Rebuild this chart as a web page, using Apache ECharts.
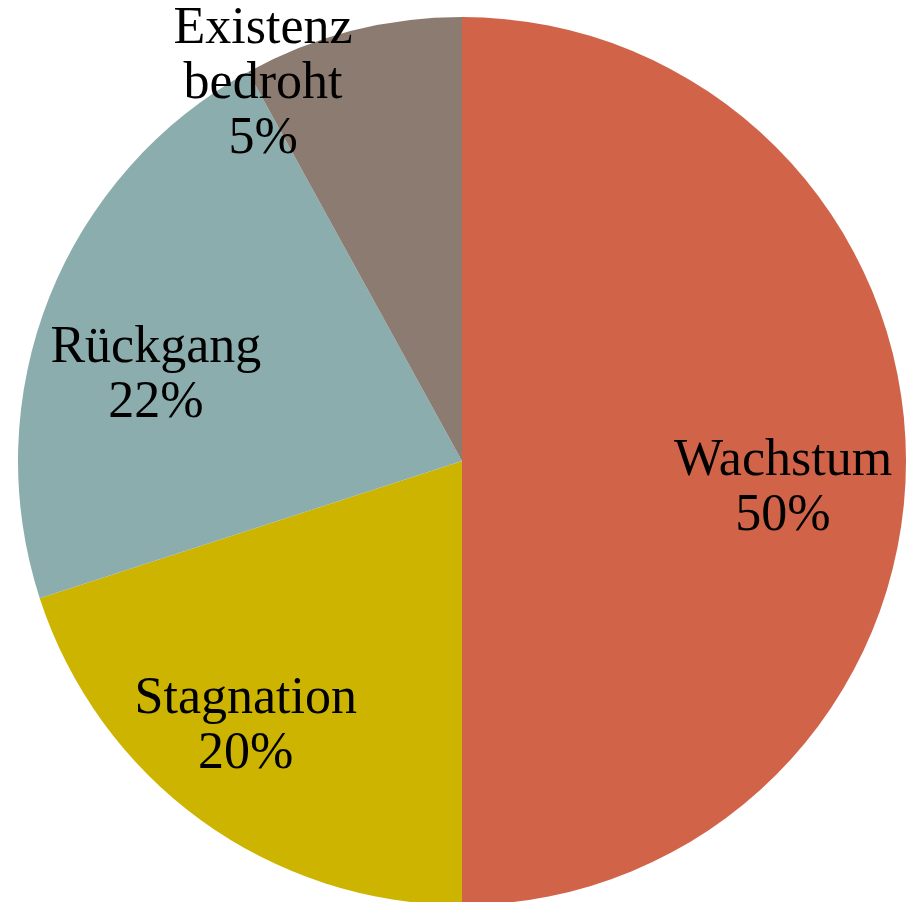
<!DOCTYPE html>
<html>
<head>
<meta charset="utf-8">
<script src="https://cdn.jsdelivr.net/npm/echarts@6/dist/echarts.min.js"></script>
<style>
html,body{margin:0;padding:0;background:#fff;}
#main{width:909px;height:902px;}
</style>
</head>
<body>
<div id="main"></div>
<script>
// Data
var categories = ['Wachstum', 'Stagnation', 'Rückgang', 'Existenz\nbedroht'];
var sliceValues = [50, 20, 22, 8];          // slice sizes as drawn
var percentLabels = ['50%', '20%', '22%', '5%']; // percentages as printed
var sliceColors = ['#D16349', '#CCB400', '#8CADAE', '#8C7B70'];
// label offsets from the default inside position
var labelOffsets = [[96, 28], [-84, 84], [-97, -2], [-143, -159]];

var chart = echarts.init(document.getElementById('main'), null, {renderer: 'canvas'});
var data = categories.map(function (c, i) {
  return {
    name: c,
    value: sliceValues[i],
    itemStyle: {color: sliceColors[i]},
    label: {formatter: c + '\n' + percentLabels[i]}
  };
});
chart.setOption({
  animation: false,
  backgroundColor: '#ffffff',
  series: [{
    type: 'pie',
    center: [462, 461],
    radius: [0, 444],
    startAngle: 90,
    clockwise: true,
    avoidLabelOverlap: false,
    itemStyle: {borderWidth: 0},
    emphasis: {disabled: true},
    label: {
      show: true,
      position: 'inside',
      color: '#000',
      fontFamily: 'Liberation Serif',
      fontSize: 52,
      lineHeight: 55,
      align: 'center'
    },
    labelLine: {show: false},
    labelLayout: function (params) {
      var o = labelOffsets[params.dataIndex];
      return {dx: o[0], dy: o[1]};
    },
    data: data
  }]
});
</script>
</body>
</html>
